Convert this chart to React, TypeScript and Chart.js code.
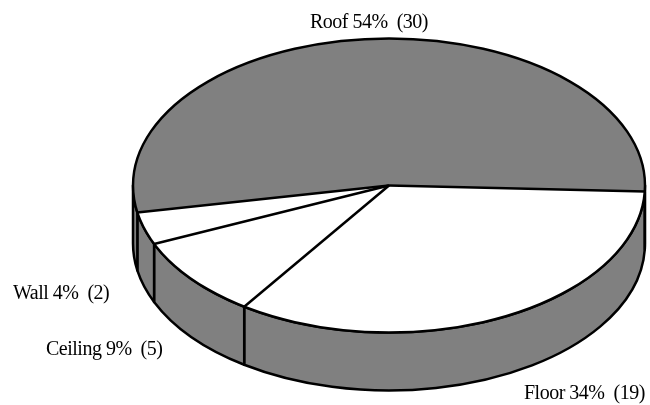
import React, { useEffect, useRef } from "react";
import { Chart, registerables } from "chart.js";

Chart.register(...registerables);

const categories = ["Floor", "Ceiling", "Wall", "Roof"];
const counts = [19, 5, 2, 30];
const percents = [34, 9, 4, 54];
const sliceColors = ["#ffffff", "#ffffff", "#ffffff", "#808080"];

// Tilted-disc geometry, in canvas pixels
const DISC = { cx: 389, cy: 185.5, rx: 256, ry: 147, depth: 58 };
const LABEL_ANCHORS: [number, number][] = [
  [524, 399],
  [46, 355],
  [13, 299],
  [310, 28],
];

// Squashes the pie into an ellipse and adds the rim and labels around it
const tiltedPie = {
  id: "tiltedPie",
  beforeDatasetsDraw(chart: any) {
    const { ctx } = chart;
    const { cx, cy, rx, ry, depth } = DISC;
    ctx.save();
    ctx.fillStyle = "#808080";
    ctx.strokeStyle = "#000000";
    ctx.lineWidth = 2.5;
    ctx.lineJoin = "round";
    for (const arc of chart.getDatasetMeta(0).data) {
      for (const shift of [0, -2 * Math.PI]) {
        const from = Math.max(arc.startAngle + shift, 0);
        const to = Math.min(arc.endAngle + shift, Math.PI);
        if (from >= to) continue;
        ctx.beginPath();
        ctx.ellipse(cx, cy, rx, ry, 0, from, to);
        ctx.ellipse(cx, cy + depth, rx, ry, 0, to, from, true);
        ctx.closePath();
        ctx.fill();
        ctx.stroke();
      }
    }
    ctx.restore();
  },
  beforeDatasetDraw(chart: any) {
    const { ctx } = chart;
    const first = chart.getDatasetMeta(0).data[0];
    const r = first.outerRadius;
    ctx.save();
    ctx.translate(DISC.cx, DISC.cy);
    ctx.scale(DISC.rx / r, DISC.ry / r);
    ctx.translate(-first.x, -first.y);
  },
  afterDatasetDraw(chart: any) {
    chart.ctx.restore();
  },
  afterDatasetsDraw(chart: any) {
    const { ctx } = chart;
    const { cx, cy, rx, ry } = DISC;
    ctx.save();
    ctx.strokeStyle = "#000000";
    ctx.lineWidth = 2.5;
    ctx.beginPath();
    ctx.ellipse(cx, cy, rx, ry, 0, 0, 2 * Math.PI);
    ctx.stroke();
    for (const arc of chart.getDatasetMeta(0).data) {
      ctx.beginPath();
      ctx.moveTo(cx, cy);
      ctx.lineTo(
        cx + rx * Math.cos(arc.startAngle),
        cy + ry * Math.sin(arc.startAngle)
      );
      ctx.stroke();
    }
    ctx.fillStyle = "#000000";
    ctx.font = '20px "Liberation Serif"';
    ctx.letterSpacing = "-0.5px";
    ctx.textAlign = "left";
    ctx.textBaseline = "alphabetic";
    categories.forEach((name, i) => {
      const [x, y] = LABEL_ANCHORS[i];
      ctx.fillText(`${name} ${percents[i]}%  (${counts[i]})`, x, y);
    });
    ctx.restore();
  },
};

export default function App() {
  const canvasRef = useRef<HTMLCanvasElement>(null);

  useEffect(() => {
    const chart = new Chart(canvasRef.current!, {
      type: "pie",
      data: {
        labels: categories,
        datasets: [
          {
            data: counts,
            backgroundColor: sliceColors,
            borderWidth: 0,
            clip: false,
          },
        ],
      },
      options: {
        animation: false,
        responsive: false,
        rotation: 92.3,
        events: [],
        plugins: {
          legend: { display: false },
          tooltip: { enabled: false },
        },
      },
      plugins: [tiltedPie],
    } as any);
    return () => chart.destroy();
  }, []);

  return (
    <canvas
      ref={canvasRef}
      width={650}
      height={405}
      style={{ position: "fixed", left: 0, top: 0, display: "block", background: "#ffffff" }}
    />
  );
}
